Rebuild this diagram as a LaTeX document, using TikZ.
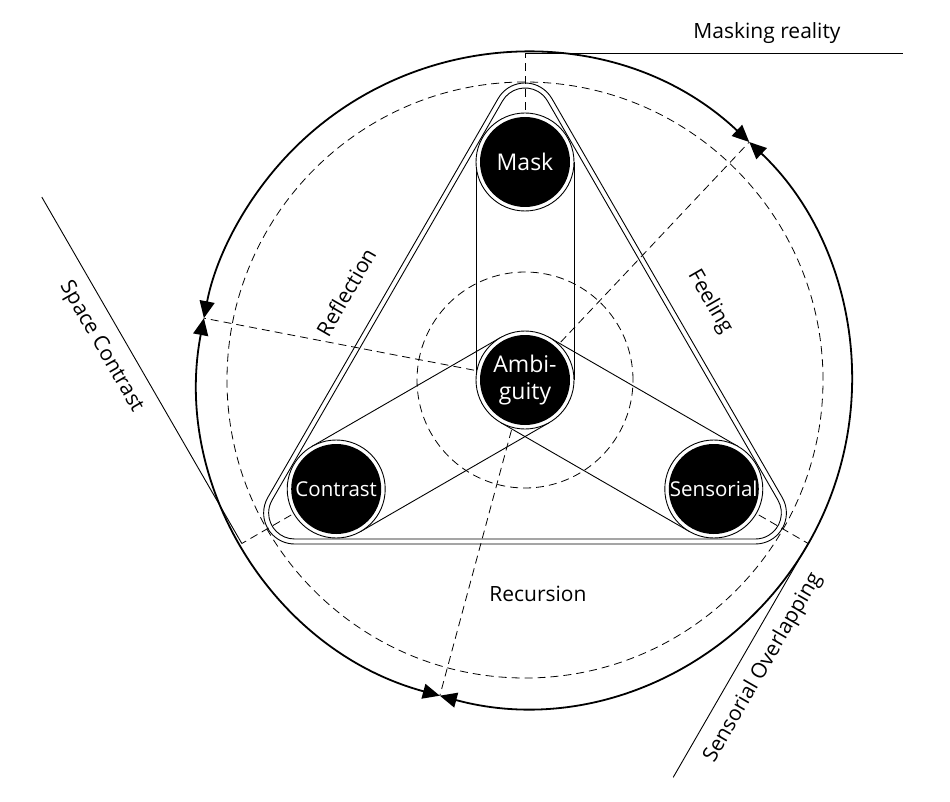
\documentclass[tikz,border=0pt]{standalone}
\usepackage{fontspec}
\setmainfont{Open Sans}
\usetikzlibrary{arrows.meta,calc}
\tikzset{
  dashedline/.style={draw=black, line width=0.8pt, dash pattern=on 8pt off 5pt},
  tipstyle/.style={Triangle[length=17pt,width=15pt]},
  mainarc/.style={draw=black, line width=1.8pt, {Triangle[length=17pt,width=15pt]}-{Triangle[length=17pt,width=15pt]}},
  thinline/.style={draw=black, line width=0.9pt},
  ring/.style={circle, draw=black, fill=white, line width=0.9pt, minimum size=98pt, inner sep=0pt},
  core/.style={circle, fill=black, text=white, minimum size=90pt, inner sep=0pt, align=center},
  nodefont/.style={font=\fontsize{23}{27}\selectfont},
  smallnodefont/.style={font=\fontsize{20.5}{24}\selectfont},
  lbl/.style={font=\fontsize{21}{25}\selectfont, inner sep=0pt},
}
\begin{document}
\begin{tikzpicture}[x=1pt,y=1pt]
\useasboundingbox (0,0) rectangle (950,-802);
\coordinate (O) at (525,-380);
\coordinate (M) at ($(O)+(90:218)$);
\coordinate (C) at ($(O)+(210:218)$);
\coordinate (S) at ($(O)+(330:218)$);
\coordinate (P1) at ($(O)+(46.7:327)$);
\coordinate (P2) at ($(O)+(169.1:327)$);
\coordinate (P3) at ($(O)+(254.9:327)$);
\coordinate (T90) at ($(O)+(90:327)$);
\coordinate (T210) at ($(O)+(210:327)$);
\coordinate (T330) at ($(O)+(330:327)$);
\coordinate (Mend) at (903,-53);
\coordinate (Cend) at ($(T210)+(120:400)$);
\coordinate (Send) at ($(T330)+(240:270)$);

% dashed circles
\draw[dashedline] (O) circle[radius=298];
\draw[dashedline] (O) circle[radius=108];

% dashed radial lines
\draw[dashedline] (M) -- (T90);
\draw[dashedline] (C) -- (T210);
\draw[dashedline] (S) -- (T330);
\draw[dashedline] (O) -- (P1);
\draw[dashedline] (O) -- (P2);
\draw[dashedline] (O) -- (P3);

% main circle arcs with arrows
\draw[mainarc] (P1) arc[start angle=46.7, end angle=169.1, radius=327];
\draw[mainarc] (P2) arc[start angle=169.1, end angle=254.9, radius=327];
\draw[mainarc] (P3) arc[start angle=254.9, end angle=406.7, radius=327];

% tangent lines
\draw[thinline] (T90) -- (Mend);
\draw[thinline] (T210) -- (Cend);
\draw[thinline] (T330) -- (Send);

% rounded triangle (double line)
\foreach \rc in {26,31}{
  \draw[thinline] ($(O)+(90:266)+(150:\rc)$) arc[start angle=150, end angle=30, radius=\rc]
    -- ($(O)+(330:266)+(30:\rc)$) arc[start angle=30, end angle=-90, radius=\rc]
    -- ($(O)+(210:266)+(270:\rc)$) arc[start angle=270, end angle=150, radius=\rc]
    -- cycle;
}

% stadium connectors
\foreach \X in {M,C,S}{
  \draw[thinline] ($(O)!49pt!90:(\X)$) -- ($(\X)!49pt!-90:(O)$);
  \draw[thinline] ($(O)!49pt!-90:(\X)$) -- ($(\X)!49pt!90:(O)$);
}

% nodes
\node[ring] (Aring) at (O) {};
\node[ring] (Mring) at (M) {};
\node[ring] (Cring) at (C) {};
\node[ring] (Sring) at (S) {};
\node[core, nodefont] (Amb) at (O) {Ambi-\\guity};
\node[core, nodefont] (Mask) at (M) {Mask};
\node[core, smallnodefont] (Con) at (C) {Contrast};
\node[core, smallnodefont] (Sen) at (S) {Sensorial};

% labels
\node[lbl] (Lmask) at (767,-33) {Masking reality};
\node[lbl, rotate=-60] (Lspace) at (101,-347) {Space Contrast};
\node[lbl, rotate=60] (Lsens) at (763,-668) {Sensorial Overlapping};
\node[lbl, rotate=60] (Lrefl) at (346,-292) {Reflection};
\node[lbl, rotate=-60] (Lfeel) at (710,-302) {Feeling};
\node[lbl] (Lrec) at (538,-594) {Recursion};
\end{tikzpicture}
\end{document}
